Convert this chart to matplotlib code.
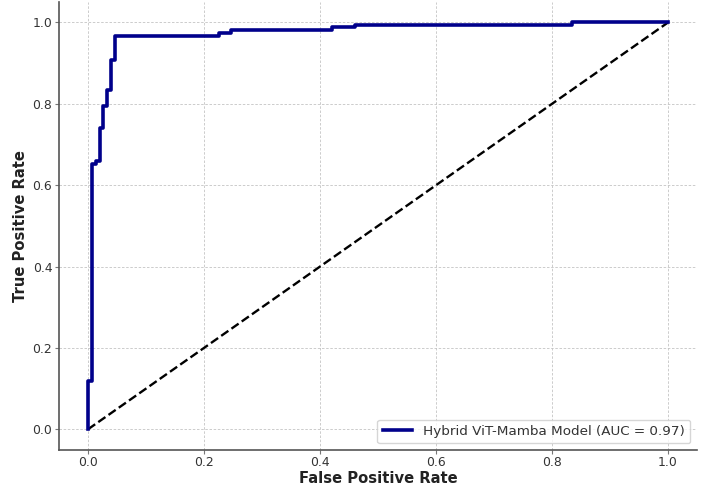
import matplotlib
matplotlib.use("Agg")
import matplotlib.pyplot as plt

# ROC curve points
fpr = [0.0, 0.0, 0.006, 0.006, 0.014, 0.014, 0.020, 0.020, 0.026, 0.026,
       0.033, 0.033, 0.040, 0.040, 0.046, 0.046, 0.226, 0.226, 0.247, 0.247,
       0.420, 0.420, 0.460, 0.460, 0.834, 0.834, 1.0]
tpr = [0.0, 0.119, 0.119, 0.652, 0.652, 0.659, 0.659, 0.741, 0.741, 0.794,
       0.794, 0.834, 0.834, 0.907, 0.907, 0.968, 0.968, 0.975, 0.975, 0.981,
       0.981, 0.988, 0.988, 0.994, 0.994, 1.0, 1.0]
chance_x = [0, 1]
chance_y = [0, 1]
auc_label = "Hybrid ViT-Mamba Model (AUC = 0.97)"
xticks = [0.0, 0.2, 0.4, 0.6, 0.8, 1.0]
yticks = [0.0, 0.2, 0.4, 0.6, 0.8, 1.0]

fig = plt.figure(figsize=(7.12, 4.90), dpi=100)
ax = fig.add_axes([0.0829, 0.0816, 0.896, 0.914])

ax.plot(fpr, tpr, color="darkblue", lw=2.6, label=auc_label, zorder=3)
ax.plot(chance_x, chance_y, color="black", lw=1.7, linestyle="--", zorder=2)

ax.set_xlim(-0.05, 1.05)
ax.set_ylim(-0.051, 1.05)
ax.set_xticks(xticks)
ax.set_yticks(yticks)
ax.grid(True, linestyle=(0, (3, 2)), color="#c4c4c4", linewidth=0.6)
ax.set_axisbelow(True)

for s in ["top", "right"]:
    ax.spines[s].set_visible(False)
for s in ["left", "bottom"]:
    ax.spines[s].set_color("#555555")
    ax.spines[s].set_linewidth(1.2)
ax.tick_params(axis="both", direction="out", length=3, width=0.8,
               color="#777777", labelcolor="#333333", labelsize=8.9)
ax.tick_params(axis="x", pad=1.0)
ax.tick_params(axis="y", pad=1.8)

ax.set_xlabel("False Positive Rate", fontsize=10.6, fontweight="bold",
              color="#222222", labelpad=2)
ax.set_ylabel("True Positive Rate", fontsize=10.6, fontweight="bold",
              color="#222222", labelpad=3)

leg = ax.legend(loc="lower right", fontsize=9.7, frameon=True, fancybox=True,
                handlelength=2.2)
leg.get_frame().set_edgecolor("#cccccc")
for t in leg.get_texts():
    t.set_color("#333333")

fig.savefig("out.png", dpi=100)
